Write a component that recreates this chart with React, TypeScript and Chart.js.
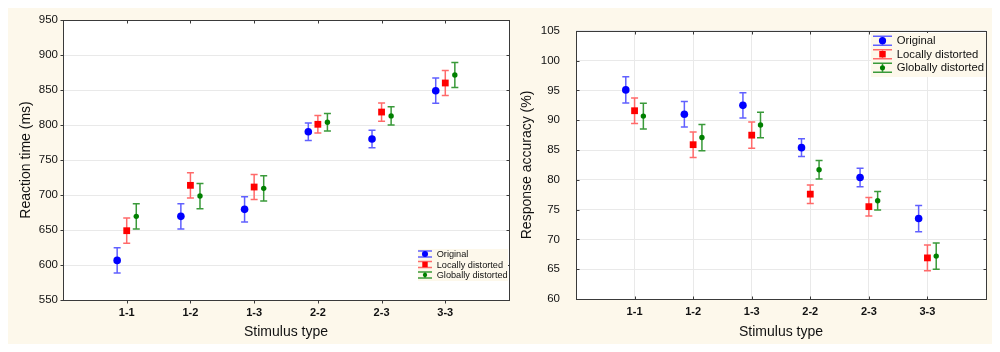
import React, { useEffect, useRef } from 'react';
import { Chart, registerables } from 'chart.js';

Chart.register(...registerables);

// ---------- data ----------
const categories = ['1-1', '1-2', '1-3', '2-2', '2-3', '3-3'];
const seriesNames = ['Original', 'Locally distorted', 'Globally distorted'];

// Reaction time (ms)
const rtTicks = [550, 600, 650, 700, 750, 800, 850, 900, 950];
const rtOriginal = [606.6, 669.5, 679.5, 790.4, 780, 849];
const rtOriginalErr = [18, 18, 18, 12.5, 12.5, 18];
const rtLocal = [649, 713.8, 711.4, 801, 818.5, 860];
const rtLocalErr = [18, 18, 18, 12.5, 13, 18];
const rtGlobal = [669.5, 698.5, 709.5, 804, 813, 871.4];
const rtGlobalErr = [18, 18, 18, 12.5, 13, 18];

// Response accuracy (%)
const accTicks = [60, 65, 70, 75, 80, 85, 90, 95, 100, 105];
const accOriginal = [95.1, 91.0, 92.5, 85.4, 80.4, 73.5];
const accOriginalErr = [2.2, 2.15, 2.1, 1.5, 1.55, 2.2];
const accLocal = [91.6, 85.9, 87.5, 77.6, 75.5, 66.9];
const accLocalErr = [2.15, 2.15, 2.2, 1.55, 1.55, 2.15];
const accGlobal = [90.7, 87.1, 89.2, 81.7, 76.5, 67.2];
const accGlobalErr = [2.15, 2.2, 2.15, 1.55, 1.55, 2.2];

// ---------- styles ----------
const FONT = "'Liberation Sans', Arial, sans-serif";
const CREAM = '#fdf8eb';
const AXIS = '#3a3a3a';
const GRID = '#e9e9e9';
const seriesStyles = [
  { color: '#0000ff', bar: '#6060ff', shape: 'circle', radius: 3.8, offset: -0.15 },
  { color: '#ff0000', bar: '#ff6a6a', shape: 'rect', radius: 4.8, offset: 0 },
  { color: '#008000', bar: '#3a9a3a', shape: 'circle', radius: 2.7, offset: 0.15 },
];

function drawMarker(ctx: CanvasRenderingContext2D, shape: string, r: number, x: number, y: number, color: string) {
  ctx.fillStyle = color;
  ctx.beginPath();
  if (shape === 'rect') {
    const s = Math.SQRT1_2 * r;
    ctx.rect(x - s, y - s, 2 * s, 2 * s);
  } else {
    ctx.arc(x, y, r, 0, Math.PI * 2);
  }
  ctx.fill();
}

const framePlugin = {
  id: 'frame',
  beforeDraw(chart: any) {
    const { ctx, chartArea: a } = chart;
    ctx.save();
    ctx.fillStyle = '#ffffff';
    ctx.fillRect(a.left, a.top, a.right - a.left, a.bottom - a.top);
    ctx.restore();
  },
  beforeDatasetsDraw(chart: any) {
    const { ctx } = chart;
    const y = chart.scales.y;
    ctx.save();
    chart.data.datasets.forEach((ds: any, di: number) => {
      const meta = chart.getDatasetMeta(di);
      ctx.strokeStyle = ds.barColor;
      ctx.lineWidth = 1.5;
      meta.data.forEach((pt: any, i: number) => {
        const v = ds.data[i].y;
        const e = ds.errors[i];
        const px = pt.x;
        const y1 = y.getPixelForValue(v + e);
        const y2 = y.getPixelForValue(v - e);
        const cw = 3.5;
        ctx.beginPath();
        ctx.moveTo(px, y1);
        ctx.lineTo(px, y2);
        ctx.moveTo(px - cw, y1);
        ctx.lineTo(px + cw, y1);
        ctx.moveTo(px - cw, y2);
        ctx.lineTo(px + cw, y2);
        ctx.stroke();
      });
    });
    ctx.restore();
  },
  afterDraw(chart: any, _args: any, opts: any) {
    const { ctx, chartArea: a } = chart;
    const xs = chart.scales.x;
    const ys = chart.scales.y;
    ctx.save();
    ctx.strokeStyle = AXIS;
    ctx.lineWidth = 1;
    const L = Math.round(a.left) + 0.5;
    const R = Math.round(a.right) + 0.5;
    const T = Math.round(a.top) + 0.5;
    const B = Math.round(a.bottom) + 0.5;
    ctx.strokeRect(L, T, R - L, B - T);
    ctx.beginPath();
    ys.ticks.forEach((t: any) => {
      const py = Math.round(ys.getPixelForValue(t.value)) + 0.5;
      if (opts.yOut) { ctx.moveTo(L - 3, py); ctx.lineTo(L, py); }
      else { ctx.moveTo(L, py); ctx.lineTo(L + 3, py); }
      ctx.moveTo(R, py); ctx.lineTo(R - 3, py);
    });
    categories.forEach((_c, i) => {
      const px = Math.round(xs.getPixelForValue(i + 1)) + 0.5;
      if (opts.xOut) { ctx.moveTo(px, B); ctx.lineTo(px, B + 3); }
      else { ctx.moveTo(px, B); ctx.lineTo(px, B - 3); }
      ctx.moveTo(px, T); ctx.lineTo(px, T + 3);
    });
    ctx.stroke();

    // legend
    const lg = opts.legend;
    ctx.fillStyle = CREAM;
    ctx.fillRect(lg.boxX, lg.boxY, lg.boxW, lg.boxH);
    ctx.font = `${lg.font}px ${FONT}`;
    ctx.textBaseline = 'middle';
    ctx.textAlign = 'left';
    seriesNames.forEach((name, i) => {
      const st = seriesStyles[i];
      const cy = lg.rowY + i * lg.rowH;
      const cx = lg.iconX;
      ctx.strokeStyle = st.bar;
      ctx.lineWidth = 1.5;
      ctx.beginPath();
      ctx.moveTo(cx - lg.iconW / 2, cy - lg.iconH);
      ctx.lineTo(cx + lg.iconW / 2, cy - lg.iconH);
      ctx.moveTo(cx - lg.iconW / 2, cy + lg.iconH);
      ctx.lineTo(cx + lg.iconW / 2, cy + lg.iconH);
      ctx.moveTo(cx, cy - lg.iconH);
      ctx.lineTo(cx, cy + lg.iconH);
      ctx.stroke();
      drawMarker(ctx, st.shape, st.radius * lg.markScale, cx, cy, st.color);
      ctx.fillStyle = '#111';
      ctx.fillText(name, lg.textX, cy + 0.5);
    });
    ctx.restore();
  },
};

function makeConfig(p: any): any {
  const datasets = p.series.map((s: any, si: number) => {
    const st = seriesStyles[si];
    return {
      type: 'scatter',
      label: seriesNames[si],
      data: s.means.map((m: number, i: number) => ({ x: i + 1 + st.offset, y: m })),
      errors: s.errs,
      barColor: st.bar,
      pointStyle: st.shape,
      pointRadius: st.radius,
      pointHoverRadius: st.radius,
      backgroundColor: st.color,
      borderColor: st.color,
      borderWidth: 0,
      showLine: false,
    };
  });
  const ticks = p.ticks;
  return {
    type: 'scatter',
    data: { datasets },
    plugins: [framePlugin],
    options: {
      responsive: false,
      animation: false,
      events: [],
      layout: { padding: { left: 0, top: p.top, right: p.right, bottom: 0 } },
      plugins: {
        legend: { display: false },
        tooltip: { enabled: false },
        frame: { yOut: p.yOut, xOut: p.xOut, legend: p.legend },
      },
      scales: {
        x: {
          type: 'linear',
          min: 0,
          max: categories.length + 1,
          ticks: {
            stepSize: 1,
            autoSkip: false,
            maxRotation: 0,
            padding: 6,
            color: '#111',
            font: { family: FONT, size: 11, weight: 'bold' },
            callback: (v: number) => categories[Math.round(v) - 1] ?? '',
          },
          grid: { display: p.vgrid, color: GRID, drawTicks: false },
          border: { display: false },
          title: {
            display: true,
            text: 'Stimulus type',
            color: '#111',
            font: { family: FONT, size: 14 },
            padding: { top: 0, bottom: 3 },
          },
          afterFit: (s: any) => { s.height = p.xh; },
        },
        y: {
          type: 'linear',
          min: ticks[0],
          max: ticks[ticks.length - 1],
          ticks: {
            stepSize: ticks[1] - ticks[0],
            padding: p.yPad,
            color: '#111',
            font: { family: FONT, size: 11.5 },
          },
          grid: { color: GRID, drawTicks: false },
          border: { display: false },
          title: {
            display: true,
            text: p.yTitle,
            color: '#111',
            font: { family: FONT, size: 14 },
            padding: { top: p.yTitlePad, bottom: 0 },
          },
          afterFit: (s: any) => { s.width = p.yw; },
        },
      },
    },
  };
}

export default function App() {
  const leftRef = useRef<HTMLCanvasElement>(null);
  const rightRef = useRef<HTMLCanvasElement>(null);

  useEffect(() => {
    const left = new Chart(leftRef.current as any, makeConfig({
      series: [
        { means: rtOriginal, errs: rtOriginalErr },
        { means: rtLocal, errs: rtLocalErr },
        { means: rtGlobal, errs: rtGlobalErr },
      ],
      ticks: rtTicks,
      yTitle: 'Reaction time (ms)',
      top: 12, right: 9, yw: 55, xh: 44, yPad: 5, yTitlePad: 9.6,
      vgrid: false, yOut: true, xOut: true,
      legend: {
        boxX: 410, boxY: 241, boxW: 90, boxH: 32,
        iconX: 417, iconW: 14, iconH: 3, markScale: 0.8,
        textX: 428.7, rowY: 246, rowH: 10.5, font: 9.2,
      },
    }));
    const right = new Chart(rightRef.current as any, makeConfig({
      series: [
        { means: accOriginal, errs: accOriginalErr },
        { means: accLocal, errs: accLocalErr },
        { means: accGlobal, errs: accGlobalErr },
      ],
      ticks: accTicks,
      yTitle: 'Response accuracy (%)',
      top: 11, right: 5, yw: 58, xh: 45, yPad: 16, yTitlePad: 0.6,
      vgrid: true, yOut: false, xOut: false,
      legend: {
        boxX: 353, boxY: 25, boxW: 115, boxH: 44,
        iconX: 364.5, iconW: 19, iconH: 4.5, markScale: 0.95,
        textX: 378.7, rowY: 32.7, rowH: 13.5, font: 11.3,
      },
    }));
    return () => { left.destroy(); right.destroy(); };
  }, []);

  return (
    <div style={{ width: 984, height: 336, background: CREAM, display: 'flex' }}>
      <canvas ref={leftRef} width={510} height={336} style={{ display: 'block', width: 510, height: 336 }} />
      <canvas ref={rightRef} width={474} height={336} style={{ display: 'block', width: 474, height: 336 }} />
    </div>
  );
}
